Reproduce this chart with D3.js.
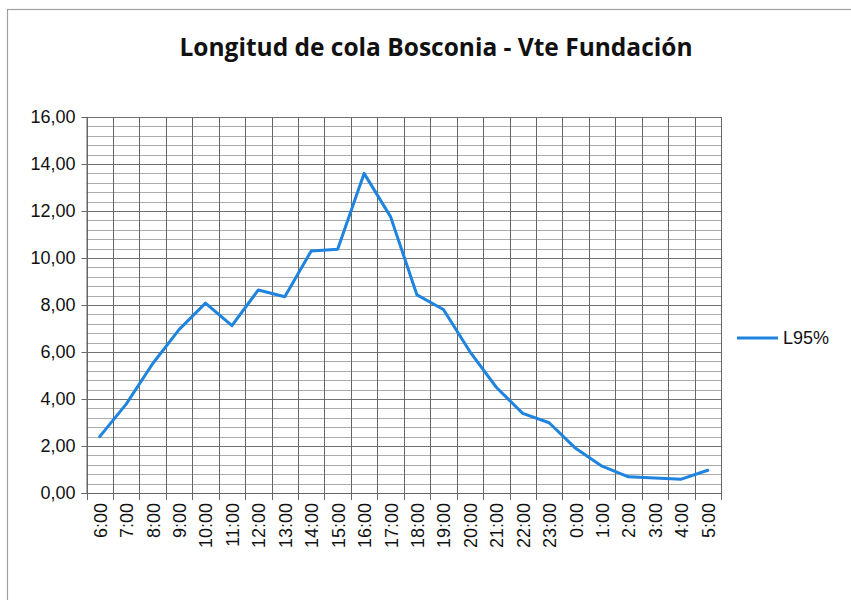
<!DOCTYPE html>
<html>
<head>
<meta charset="utf-8">
<script src="https://cdn.jsdelivr.net/npm/d3@7"></script>
<style>
  html, body { margin: 0; padding: 0; background: #fff; }
  svg { display: block; }
</style>
</head>
<body>
<svg id="chart" width="851" height="600"></svg>
<script>
const title = "Longitud de cola Bosconia - Vte Fundación";
const seriesName = "L95%";
const categories = ["6:00","7:00","8:00","9:00","10:00","11:00","12:00","13:00","14:00","15:00","16:00","17:00","18:00","19:00","20:00","21:00","22:00","23:00","0:00","1:00","2:00","3:00","4:00","5:00"];
const values = [2.40,3.78,5.50,6.95,8.08,7.12,8.64,8.35,10.30,10.37,13.60,11.76,8.43,7.81,6.02,4.50,3.39,2.99,1.90,1.14,0.69,0.64,0.59,0.97];
const yTicks = [0,2,4,6,8,10,12,14,16];
const yTickLabels = ["0,00","2,00","4,00","6,00","8,00","10,00","12,00","14,00","16,00"];
const yMinorStep = 0.4;

const svg = d3.select("#chart");
const plotL = 86.5, plotR = 721, plotT = 117, plotB = 493;

// outer frame
svg.append("rect").attr("x", 7.5).attr("y", 9.5).attr("width", 900).attr("height", 700)
  .attr("fill", "none").attr("stroke", "#a0a0a0").attr("stroke-width", 1.2);

// title
svg.append("text").attr("x", 436).attr("y", 56).attr("text-anchor", "middle")
  .attr("font-family", "'Open Sans', sans-serif").attr("font-weight", "bold")
  .attr("font-size", 24.5).attr("fill", "#111").text(title);

const x = d3.scaleBand().domain(categories).range([plotL, plotR]);
const y = d3.scaleLinear().domain([0, 16]).range([plotB, plotT]);

// minor horizontal gridlines
const minor = d3.range(0, 16 + 1e-9, yMinorStep).filter(v => Math.abs(v / 2 - Math.round(v / 2)) > 1e-6);
svg.append("g").selectAll("line").data(minor).join("line")
  .attr("x1", plotL).attr("x2", plotR)
  .attr("y1", d => Math.round(y(d)) + 0.5).attr("y2", d => Math.round(y(d)) + 0.5)
  .attr("stroke", "#ababab").attr("stroke-width", 1);

// major horizontal gridlines
svg.append("g").selectAll("line").data(yTicks).join("line")
  .attr("x1", plotL).attr("x2", plotR)
  .attr("y1", d => Math.round(y(d)) + 0.5).attr("y2", d => Math.round(y(d)) + 0.5)
  .attr("stroke", "#727272").attr("stroke-width", 1);

// vertical gridlines at category boundaries (extend below axis as tick marks)
const bounds = categories.map(c => x(c)).concat([x(categories[categories.length - 1]) + x.bandwidth()]);
svg.append("g").selectAll("line").data(bounds).join("line")
  .attr("x1", d => Math.round(d) + 0.5).attr("x2", d => Math.round(d) + 0.5)
  .attr("y1", plotT).attr("y2", plotB + 7)
  .attr("stroke", "#666").attr("stroke-width", 1);

// y axis
const yAxis = d3.axisLeft(y).tickValues(yTicks).tickSize(5).tickPadding(6)
  .tickFormat((d, i) => yTickLabels[i]);
const gy = svg.append("g").attr("transform", `translate(${plotL},0)`).call(yAxis);
gy.select(".domain").attr("stroke", "#666");
gy.selectAll(".tick line").attr("stroke", "#666");
gy.selectAll("text").attr("font-family", "'Liberation Sans', Arial, sans-serif")
  .attr("font-size", 18).attr("fill", "#111");

// x axis (labels rotated)
const xAxis = d3.axisBottom(x).tickSize(0).tickPadding(0);
const gx = svg.append("g").attr("transform", `translate(0,${plotB})`).call(xAxis);
gx.select(".domain").attr("stroke", "#666");
gx.selectAll("text")
  .attr("font-family", "'Liberation Sans', Arial, sans-serif").attr("font-size", 18).attr("fill", "#111")
  .attr("text-anchor", "end").attr("dy", null).attr("y", 0)
  .attr("dominant-baseline", "central")
  .attr("transform", "translate(1,10) rotate(-90)");

// line
const line = d3.line().x((d, i) => x(categories[i]) + x.bandwidth() / 2).y(d => y(d));
svg.append("path").datum(values).attr("d", line)
  .attr("fill", "none").attr("stroke", "#1e84e0").attr("stroke-width", 3)
  .attr("stroke-linejoin", "round").attr("stroke-linecap", "round");

// legend
svg.append("line").attr("x1", 737).attr("x2", 778).attr("y1", 338).attr("y2", 338)
  .attr("stroke", "#1e84e0").attr("stroke-width", 3);
svg.append("text").attr("x", 783).attr("y", 338).attr("dominant-baseline", "central")
  .attr("font-family", "'Liberation Sans', Arial, sans-serif").attr("font-size", 18)
  .attr("fill", "#111").text(seriesName);
</script>
</body>
</html>
